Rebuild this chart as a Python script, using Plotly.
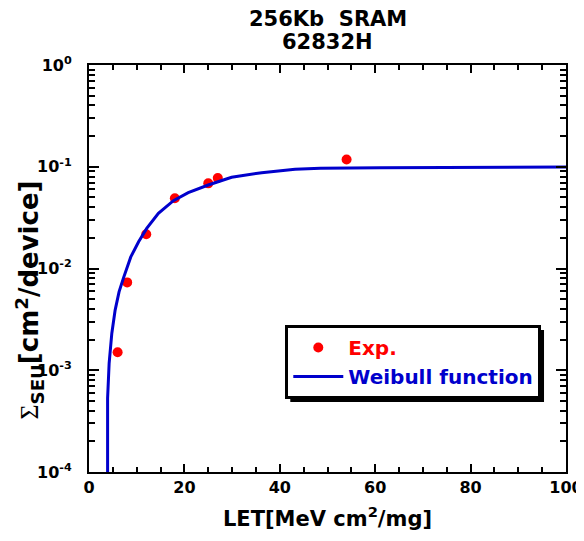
import plotly.graph_objects as go

# Experimental data
exp_let = [6, 8, 12, 18, 25, 27, 54]
exp_sigma = [1.5e-3, 7.3e-3, 0.0217, 0.049, 0.0687, 0.0775, 0.118]

# Weibull fit curve
fit_let = [3.9, 3.9, 4.22, 4.78, 5.48, 6.3, 7.2, 8.76, 10.4, 12.1, 14.55, 17.7,
           20.8, 25.0, 29.9, 36.2, 43.2, 48.5, 61.0, 80.0, 100.0]
fit_sigma = [1e-5, 5.3e-4, 1.17e-3, 2.3e-3, 3.9e-3, 5.9e-3, 8.0e-3, 0.0130, 0.0183,
             0.0248, 0.0348, 0.0464, 0.0556, 0.0662, 0.0787, 0.0875, 0.0944, 0.0966,
             0.0975, 0.099, 0.0995]

y_tickvals = [1e-4, 1e-3, 1e-2, 1e-1, 1e0]
y_ticktext = ["10<sup>-4</sup>", "10<sup>-3</sup>", "10<sup>-2</sup>",
              "10<sup>-1</sup>", "10<sup>0</sup>"]
x_tickvals = [0, 20, 40, 60, 80, 100]
x_ticktext = [str(v) for v in x_tickvals]

title_lines = ["256Kb\u00a0\u00a0SRAM", "62832H"]
x_title = "LET[MeV cm<sup>2</sup>/mg]"
y_title = ("<span style='font-family:Liberation Serif;font-weight:normal'>Σ</span>"
           "<sub>SEU</sub>[cm<sup>2</sup>/device]")

RED = "#ff0000"
BLUE = "#0000cc"
FONT = "DejaVu Sans, Arial, sans-serif"

fig = go.Figure()
fig.add_trace(go.Scatter(
    x=exp_let, y=exp_sigma, mode="markers",
    marker=dict(color=RED, size=10),
    name="<span style='color:%s'>Exp.</span>" % RED,
))
fig.add_trace(go.Scatter(
    x=fit_let, y=fit_sigma, mode="lines",
    line=dict(color=BLUE, width=3),
    name="<span style='color:%s'>Weibull function</span>" % BLUE,
))

# page body has an 8px margin; the figure is sized so that the plot lands at
# screen x 88.5..566, y 65..472
OFF = 8
W, H = 584 - OFF, 541 - OFF
L, T, R, B = 88.5 - OFF, 65 - OFF, 18, 69
pw, ph = W - L - R, H - T - B

def bold(size):
    return dict(family=FONT, size=size, color="black", weight="bold")

def px(sx):  # screen x -> paper
    return (sx - OFF - L) / pw

def py(sy):  # screen y -> paper
    return (H - B - (sy - OFF)) / ph

lx, ly = px(285), py(325)
fig.update_layout(
    width=W, height=H,
    margin=dict(l=L, r=R, t=T, b=B, pad=0),
    paper_bgcolor="white", plot_bgcolor="white",
    font=bold(16),
    showlegend=True,
    legend=dict(x=lx, y=ly, xanchor="left", yanchor="top", bgcolor="white",
                bordercolor="black", borderwidth=3, font=bold(20),
                itemwidth=50, tracegroupgap=0),
    xaxis=dict(range=[0, 100], tickvals=x_tickvals, ticktext=x_ticktext,
               ticks="inside", ticklen=8, tickwidth=1.5, tickcolor="black",
               showline=True, linewidth=2, linecolor="black", mirror="ticks",
               showgrid=False, zeroline=False, tickfont=bold(16), automargin=False,
               minor=dict(dtick=5, ticks="inside", ticklen=5, tickwidth=1.5, tickcolor="black", showgrid=False),
               title=dict(text=x_title, font=bold(21), standoff=15)),
    yaxis=dict(type="log", range=[-4, 0], tickvals=y_tickvals, ticktext=y_ticktext,
               ticks="inside", ticklen=10, tickwidth=1.5, tickcolor="black",
               showline=True, linewidth=2, linecolor="black", mirror="ticks",
               showgrid=False, zeroline=False, tickfont=bold(16), automargin=False,
               ticklabelstandoff=12,
               minor=dict(dtick="D1", ticks="inside", ticklen=6, tickwidth=1.5, tickcolor="black", showgrid=False)),
)

# y-axis title
fig.add_annotation(text=y_title, xref="paper", yref="paper", x=px(28), y=py(300),
                   xanchor="center", yanchor="middle", textangle=-90,
                   showarrow=False, font=bold(26))

# two-line title
for i, line in enumerate(title_lines):
    fig.add_annotation(text=line, xref="paper", yref="paper", x=0.5,
                       y=py(19 + 23 * i), xanchor="center", yanchor="middle",
                       showarrow=False, font=bold(21))

# legend drop shadow
fig.add_shape(type="rect", xref="paper", yref="paper", layer="below",
              x0=lx + 5 / pw, x1=lx + 259 / pw, y0=ly - 77 / ph, y1=ly - 5 / ph,
              fillcolor="black", line=dict(width=0))

fig.write_html("out.html")
